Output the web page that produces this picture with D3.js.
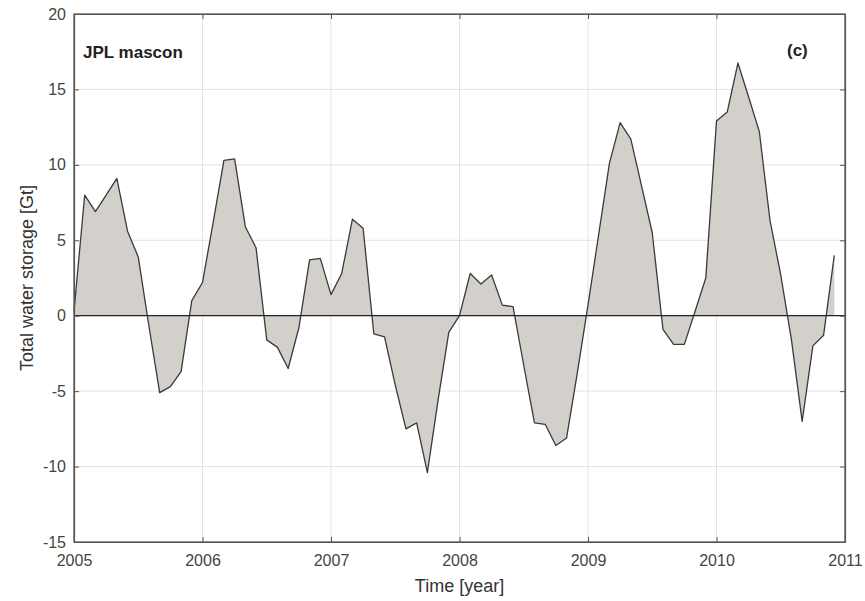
<!DOCTYPE html>
<html>
<head>
<meta charset="utf-8">
<script src="https://cdn.jsdelivr.net/npm/d3@7"></script>
<style>
  body { margin: 0; background: #fff; }
  svg { display: block; font-family: "Liberation Sans", Arial, sans-serif; }
</style>
</head>
<body>
<svg id="chart"></svg>
<script>
// monthly total water storage anomalies, Jan 2005 .. Dec 2010
const startYear = 2005;
const storage = [
  0.3, 8.0, 6.9, 8.0, 9.1, 5.6, 3.9, -0.7, -5.1, -4.7, -3.7, 1.0,
  2.2, 6.2, 10.3, 10.4, 5.9, 4.5, -1.6, -2.1, -3.5, -0.8, 3.7, 3.8,
  1.4, 2.8, 6.4, 5.8, -1.2, -1.4, -4.6, -7.5, -7.1, -10.4, -5.6, -1.1,
  0.0, 2.8, 2.1, 2.7, 0.7, 0.6, -3.3, -7.1, -7.2, -8.6, -8.1, -3.8,
  0.7, 5.4, 10.1, 12.8, 11.7, 8.6, 5.5, -0.9, -1.9, -1.9, 0.3, 2.5,
  12.9, 13.5, 16.75, 14.5, 12.2, 6.3, 2.7, -1.6, -7.0, -2.0, -1.3, 4.0
];
const xTicks = [2005, 2006, 2007, 2008, 2009, 2010, 2011];
const yTicks = [-15, -10, -5, 0, 5, 10, 15, 20];

const width = 865;
const height = 601;
const margin = { top: 14, right: 20, bottom: 59, left: 74 };
const innerW = width - margin.left - margin.right;
const innerH = height - margin.top - margin.bottom;

const svg = d3.select('#chart')
    .attr('width', width)
    .attr('height', height);

const g = svg.append('g')
    .attr('transform', `translate(${margin.left},${margin.top})`);

const x = d3.scaleLinear().domain([2005, 2011]).range([0, innerW]);
const y = d3.scaleLinear().domain([-15, 20]).range([innerH, 0]);

const data = storage.map((v, i) => ({ t: startYear + i / 12, v: v }));

// grid
g.append('g')
    .selectAll('line')
    .data(xTicks)
    .enter().append('line')
    .attr('x1', d => x(d)).attr('x2', d => x(d))
    .attr('y1', 0).attr('y2', innerH)
    .attr('stroke', '#e3e3e3');

g.append('g')
    .selectAll('line')
    .data(yTicks)
    .enter().append('line')
    .attr('x1', 0).attr('x2', innerW)
    .attr('y1', d => y(d)).attr('y2', d => y(d))
    .attr('stroke', '#e3e3e3');

// filled area against zero
const area = d3.area()
    .x(d => x(d.t))
    .y0(y(0))
    .y1(d => y(d.v));

g.append('path')
    .datum(data)
    .attr('d', area)
    .attr('fill', '#d3cfcb');

const line = d3.line()
    .x(d => x(d.t))
    .y(d => y(d.v));

g.append('path')
    .datum(data)
    .attr('d', line)
    .attr('fill', 'none')
    .attr('stroke', '#3a3a3a')
    .attr('stroke-width', 1.3)
    .attr('stroke-linejoin', 'round');

// zero line
g.append('line')
    .attr('x1', 0).attr('x2', innerW)
    .attr('y1', y(0)).attr('y2', y(0))
    .attr('stroke', '#222')
    .attr('stroke-width', 1.3);

// axes (ticks inward, MATLAB style)
const axisColor = '#555';
const labelColor = '#444';
const fmt = d => String(d);

g.append('g')
    .attr('transform', `translate(0,${innerH})`)
    .call(d3.axisBottom(x).tickValues(xTicks).tickFormat(fmt).tickSizeInner(-5).tickSizeOuter(0).tickPadding(13));

g.append('g')
    .call(d3.axisLeft(y).tickValues(yTicks).tickFormat(fmt).tickSizeInner(-5).tickSizeOuter(0).tickPadding(8));

g.append('g')
    .call(d3.axisTop(x).tickValues(xTicks).tickFormat('').tickSizeInner(-5).tickSizeOuter(0));

g.append('g')
    .attr('transform', `translate(${innerW},0)`)
    .call(d3.axisRight(y).tickValues(yTicks).tickFormat('').tickSizeInner(-5).tickSizeOuter(0));

g.selectAll('.domain').attr('stroke', axisColor).attr('stroke-width', 1.2);
g.selectAll('.tick line').attr('stroke', axisColor);
g.selectAll('.tick text')
    .attr('fill', labelColor)
    .style('font-size', '16px');

// box
g.append('rect')
    .attr('width', innerW)
    .attr('height', innerH)
    .attr('fill', 'none')
    .attr('stroke', axisColor)
    .attr('stroke-width', 1.2);

// labels
svg.append('text')
    .attr('x', margin.left + innerW / 2)
    .attr('y', 592)
    .attr('text-anchor', 'middle')
    .attr('fill', '#333')
    .style('font-size', '18px')
    .text('Time [year]');

svg.append('text')
    .attr('transform', `translate(33,${margin.top + innerH / 2}) rotate(-90)`)
    .attr('text-anchor', 'middle')
    .attr('fill', '#333')
    .style('font-size', '18px')
    .text('Total water storage [Gt]');

g.append('text')
    .attr('x', 9)
    .attr('y', 44)
    .attr('fill', '#222')
    .style('font-size', '17px')
    .style('font-weight', 'bold')
    .text('JPL mascon');

g.append('text')
    .attr('x', innerW - 58)
    .attr('y', 42)
    .attr('fill', '#222')
    .style('font-size', '17px')
    .style('font-weight', 'bold')
    .text('(c)');
</script>
</body>
</html>
